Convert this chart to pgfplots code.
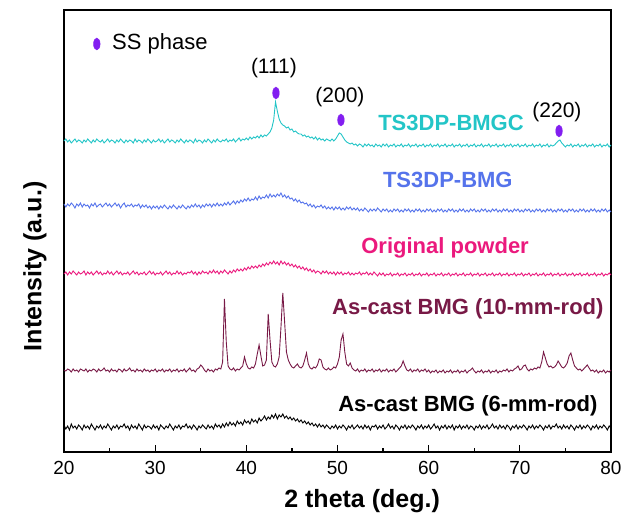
\documentclass[border=0pt]{standalone}
\usepackage{pgfplots}
\pgfplotsset{compat=1.18}
\usepackage{pgfplotstable}
\usepackage{fontspec}
\setmainfont{Liberation Sans}
\definecolor{ccyan}{RGB}{35,197,199}
\definecolor{cblue}{RGB}{85,115,235}
\definecolor{cmag}{RGB}{235,25,125}
\definecolor{cmar}{RGB}{120,25,70}
\definecolor{ssp}{RGB}{130,30,240}
\pgfplotstableread{
x C B M R K
20.0 311 248 178 82 27
20.2 313 245 180 81 23
20.4 310 248 177 83 26
20.6 312 246 180 82 22
20.8 309 249 178 80 28
21.0 311 247 181 83 24
21.2 313 244 179 81 26
21.4 310 248 177 82 23
21.6 312 246 180 80 27
21.8 311 249 178 83 25
22.0 309 245 179 82 22
22.2 312 248 181 81 27
22.4 310 246 177 83 24
22.6 313 247 180 80 26
22.8 311 244 178 82 23
23.0 309 248 180 81 28
23.2 312 246 177 83 25
23.4 310 249 179 82 22
23.6 313 245 181 80 26
23.8 311 247 178 83 24
24.0 310 248 180 81 27
24.2 312 245 177 82 23
24.4 309 247 179 84 26
24.6 311 249 178 81 24
24.8 313 246 181 82 28
25.0 310 248 178 80 25
25.2 312 245 180 83 22
25.4 311 247 177 81 26
25.6 309 249 179 82 24
25.8 312 246 181 80 27
26.0 310 248 178 83 23
26.2 313 244 180 82 26
26.4 311 247 177 80 25
26.6 309 249 179 83 28
26.8 312 245 178 81 24
27.0 310 247 180 82 26
27.2 312 246 177 84 22
27.4 311 248 179 81 27
27.6 309 245 181 82 24
27.8 313 247 178 80 26
28.0 310 246 180 83 23
28.2 312 248 177 81 28
28.4 311 244 179 82 25
28.6 309 247 178 80 22
28.8 312 245 180 83 27
29.0 310 247 177 81 24
29.2 313 244 179 82 26
29.4 311 246 181 80 25
29.6 309 243 178 82 23
29.8 312 246 180 81 27
30.0 310 244 177 83 24
30.2 311 246 179 80 26
30.4 313 243 178 82 22
30.6 310 246 180 81 27
30.8 312 244 177 83 25
31.0 309 247 179 80 23
31.2 311 245 181 82 26
31.4 313 243 178 81 24
31.6 310 246 180 83 28
31.8 312 244 177 80 25
32.0 311 247 179 82 22
32.2 309 245 178 81 26
32.4 312 243 181 83 24
32.6 310 246 178 80 27
32.8 313 244 180 82 23
33.0 311 247 177 81 26
33.2 309 245 179 83 25
33.4 312 243 178 80 28
33.6 310 246 180 82 24
33.8 312 244 179 84 26
34.0 311 247 181 81 23
34.2 309 245 178 82 27
34.4 313 248 180 80 25
34.6 310 245 177 83 22
34.8 312 247 180 84 26
35.0 311 244 178 87 24
35.2 309 247 181 85 27
35.4 312 245 179 82 25
35.6 310 248 180 80 23
35.8 313 246 178 83 27
36.0 311 248 181 81 24
36.2 309 245 179 82 26
36.4 312 248 182 80 23
36.6 310 246 179 83 28
36.8 313 249 181 82 25
37.0 311 246 178 84 27
37.2 310 248 181 83 24
37.4 312 246 179 90 28
37.6 311 249 182 153 25
37.8 313 247 180 110 29
38.0 310 250 178 86 26
38.2 312 247 181 83 30
38.4 311 249 179 82 27
38.6 313 251 182 84 29
38.8 310 248 180 81 26
39.0 312 251 183 83 31
39.2 314 249 181 82 28
39.4 311 252 183 84 30
39.6 313 250 181 86 27
39.8 312 253 184 95 32
40.0 314 251 182 88 29
40.2 312 254 185 84 31
40.4 315 251 183 83 28
40.6 313 253 186 85 33
40.8 315 252 184 84 30
41.0 314 255 186 88 32
41.2 316 252 184 98 29
41.4 314 256 187 107 34
41.6 317 253 185 96 31
41.8 315 255 188 86 33
42.0 317 254 186 87 36
42.2 316 257 189 92 32
42.4 318 254 187 138 35
42.6 320 258 190 112 33
42.8 324 255 188 90 37
43.0 332 257 191 86 34
43.2 350 255 188 85 38
43.4 341 258 190 88 33
43.6 333 256 187 95 37
43.8 329 259 191 125 35
44.0 327 255 188 159 38
44.2 326 257 190 130 34
44.4 324 254 187 100 36
44.6 325 256 189 92 33
44.8 322 253 186 88 35
45.0 323 254 188 85 32
45.2 320 251 185 84 34
45.4 321 253 187 86 31
45.6 319 250 184 88 33
45.8 318 252 186 85 30
46.0 318 249 183 84 32
46.2 316 250 185 86 29
46.4 317 248 182 92 31
46.6 315 249 184 99 28
46.8 316 246 181 88 30
47.0 314 248 183 84 27
47.2 315 245 180 83 29
47.4 313 247 182 85 26
47.6 315 244 179 84 28
47.8 312 246 181 87 25
48.0 314 245 180 93 28
48.2 312 247 178 92 25
48.4 313 244 181 85 27
48.6 311 246 179 83 24
48.8 313 243 181 82 27
49.0 312 245 178 84 25
49.2 311 243 180 82 23
49.4 313 245 178 83 26
49.6 311 242 180 85 24
49.8 313 245 177 84 27
50.0 316 243 180 88 23
50.2 319 245 178 95 26
50.4 318 242 180 112 24
50.6 315 244 177 118 27
50.8 312 242 179 100 25
51.0 310 245 178 88 22
51.2 309 243 180 86 26
51.4 308 245 177 89 24
51.6 309 242 179 84 27
51.8 307 244 177 82 23
52.0 308 242 179 81 25
52.2 306 244 178 83 27
52.4 308 241 180 80 24
52.6 307 243 177 82 26
52.8 305 241 179 81 23
53.0 308 244 178 83 27
53.2 306 242 180 80 24
53.4 308 240 177 82 26
53.6 306 243 179 81 22
53.8 307 241 177 83 26
54.0 305 243 180 80 25
54.2 308 241 178 82 27
54.4 306 244 176 81 23
54.6 307 242 179 83 26
54.8 305 240 177 80 24
55.0 308 243 179 82 27
55.2 306 241 176 81 23
55.4 308 243 178 83 25
55.6 305 240 177 80 28
55.8 307 242 179 82 24
56.0 306 240 176 81 26
56.2 308 243 178 83 23
56.4 305 241 177 80 27
56.6 307 243 179 82 25
56.8 306 240 176 84 22
57.0 308 242 178 86 26
57.2 305 240 177 91 24
57.4 307 243 179 86 27
57.6 306 241 176 82 23
57.8 308 243 178 81 26
58.0 305 240 177 83 24
58.2 307 242 179 80 27
58.4 306 240 176 82 25
58.6 308 243 178 81 22
58.8 305 241 177 83 26
59.0 307 243 179 80 24
59.2 306 240 176 82 27
59.4 308 242 178 81 23
59.6 305 240 177 83 26
59.8 307 243 179 80 24
60.0 306 241 176 82 27
60.2 308 243 178 79 23
60.4 305 240 177 81 25
60.6 307 242 179 80 28
60.8 306 240 176 82 24
61.0 308 243 178 79 26
61.2 305 241 177 81 22
61.4 307 243 179 80 26
61.6 306 240 176 82 24
61.8 308 242 178 79 27
62.0 305 240 177 81 23
62.2 307 243 179 80 26
62.4 306 241 176 82 24
62.6 308 243 178 79 27
62.8 305 240 177 81 22
63.0 307 242 179 80 26
63.2 306 240 176 82 24
63.4 308 243 178 79 27
63.6 305 241 177 81 23
63.8 307 243 179 80 26
64.0 306 240 176 82 24
64.2 308 242 178 79 27
64.4 305 240 177 81 23
64.6 307 243 179 82 26
64.8 306 241 176 84 25
65.0 308 243 178 81 22
65.2 305 240 177 79 26
65.4 307 242 179 81 24
65.6 306 240 176 80 27
65.8 308 243 178 82 23
66.0 305 241 177 79 26
66.2 307 243 179 81 24
66.4 306 240 176 80 27
66.6 308 242 178 82 23
66.8 305 240 177 79 25
67.0 307 243 179 81 28
67.2 306 241 176 80 24
67.4 308 243 178 82 26
67.6 305 240 177 79 23
67.8 307 242 179 81 27
68.0 306 240 176 80 24
68.2 308 243 178 82 26
68.4 305 241 177 81 23
68.6 307 243 179 83 27
68.8 306 240 176 80 25
69.0 308 242 178 82 22
69.2 305 240 177 81 26
69.4 307 243 179 83 24
69.6 306 241 176 84 27
69.8 308 243 178 86 23
70.0 305 240 177 82 26
70.2 307 242 179 83 24
70.4 306 240 176 86 27
70.6 308 243 178 87 25
70.8 305 241 177 83 22
71.0 307 243 179 81 26
71.2 306 240 176 83 24
71.4 308 242 178 82 27
71.6 305 240 177 84 23
71.8 307 243 179 83 26
72.0 306 241 176 85 24
72.2 308 243 178 84 27
72.4 305 240 177 90 25
72.6 307 242 179 100 22
72.8 306 240 176 94 26
73.0 308 243 178 88 24
73.2 305 241 177 85 27
73.4 307 243 179 86 23
73.6 306 240 176 84 26
73.8 307 242 178 85 25
74.0 309 240 177 87 28
74.2 311 243 179 91 24
74.4 312 241 176 88 26
74.6 309 243 178 85 23
74.8 307 240 177 84 27
75.0 305 242 179 86 24
75.2 307 240 176 89 26
75.4 306 243 178 96 23
75.6 308 241 177 99 27
75.8 305 243 179 92 25
76.0 307 240 176 86 22
76.2 306 242 178 84 26
76.4 308 240 177 82 24
76.6 305 243 179 83 27
76.8 307 241 176 81 23
77.0 306 243 178 83 26
77.2 308 240 177 85 24
77.4 305 242 179 87 27
77.6 307 240 176 84 25
77.8 306 243 178 81 22
78.0 308 241 177 82 26
78.2 305 243 179 80 24
78.4 307 240 176 82 27
78.6 306 242 178 79 23
78.8 308 240 177 81 26
79.0 305 243 179 80 24
79.2 307 241 176 82 27
79.4 306 243 178 79 25
79.6 308 240 177 81 22
79.8 305 242 179 80 26
80.0 307 240 177 82 24
}\xrd

\begin{document}
\begin{tikzpicture}
\begin{axis}[
  name=main,
  scale only axis,
  width=547pt, height=442pt,
  xmin=20, xmax=80, ymin=0, ymax=442,
  xtick={20,30,40,50,60,70,80},
  minor x tick num=1,
  ytick=\empty,
  xtick pos=bottom,
  tick align=inside,
  major tick length=7pt, minor tick length=4pt,
  axis line style={line width=1.2pt},
  every tick/.style={black, line width=1.2pt},
  /pgf/number format/assume math mode=true,
  xticklabel style={font=\fontsize{19}{21}\selectfont},
  xticklabel shift=6pt,
  xlabel={2 theta (deg.)},
  ylabel={Intensity (a.u.)},
  xlabel style={font=\fontsize{25}{28}\selectfont\bfseries, at={(axis description cs:0.545,-0.112)}, anchor=center},
  ylabel style={font=\fontsize{25}{28}\selectfont\bfseries, at={(axis description cs:-0.053,0.42)}, anchor=center},
  clip=false,
]
\addplot[black, line width=0.9pt] table[x=x, y=K]{\xrd};
\addplot[cmar, line width=0.9pt] table[x=x, y=R]{\xrd};
\addplot[cmag, line width=0.9pt] table[x=x, y=M]{\xrd};
\addplot[cblue, line width=0.9pt] table[x=x, y=B]{\xrd};
\addplot[ccyan, line width=0.9pt] table[x=x, y=C]{\xrd};
\addplot[only marks, mark=*, mark size=6pt, mark options={xscale=0.55, fill=ssp, draw=ssp}] coordinates {(43.25,359) (50.38,332) (74.3,321) (23.6,408)};
\node[anchor=west, font=\fontsize{22}{24}\selectfont] at (axis cs:24.9,408) {SS phase};
\node[font=\fontsize{21}{23}\selectfont] at (axis cs:43.03,384) {(111)};
\node[font=\fontsize{21}{23}\selectfont] at (axis cs:50.27,355) {(200)};
\node[font=\fontsize{21}{23}\selectfont] at (axis cs:74.07,340) {(220)};
\node[text=ccyan, font=\fontsize{22}{24}\selectfont\bfseries] at (axis cs:62.45,329) {TS3DP-BMGC};
\node[text=cblue, font=\fontsize{22}{24}\selectfont\bfseries] at (axis cs:62.1,272) {TS3DP-BMG};
\node[text=cmag, font=\fontsize{22}{24}\selectfont\bfseries] at (axis cs:61.8,204) {Original powder};
\node[text=cmar, font=\fontsize{22}{24}\selectfont\bfseries] at (axis cs:64.3,143) {As-cast BMG (10-mm-rod)};
\node[text=black, font=\fontsize{22}{24}\selectfont\bfseries] at (axis cs:64.3,46) {As-cast BMG (6-mm-rod)};
\end{axis}
\pgfresetboundingbox
\path (main.south west) ++(-64pt,-69pt) rectangle ++(621pt,521pt);
\end{tikzpicture}
\end{document}
